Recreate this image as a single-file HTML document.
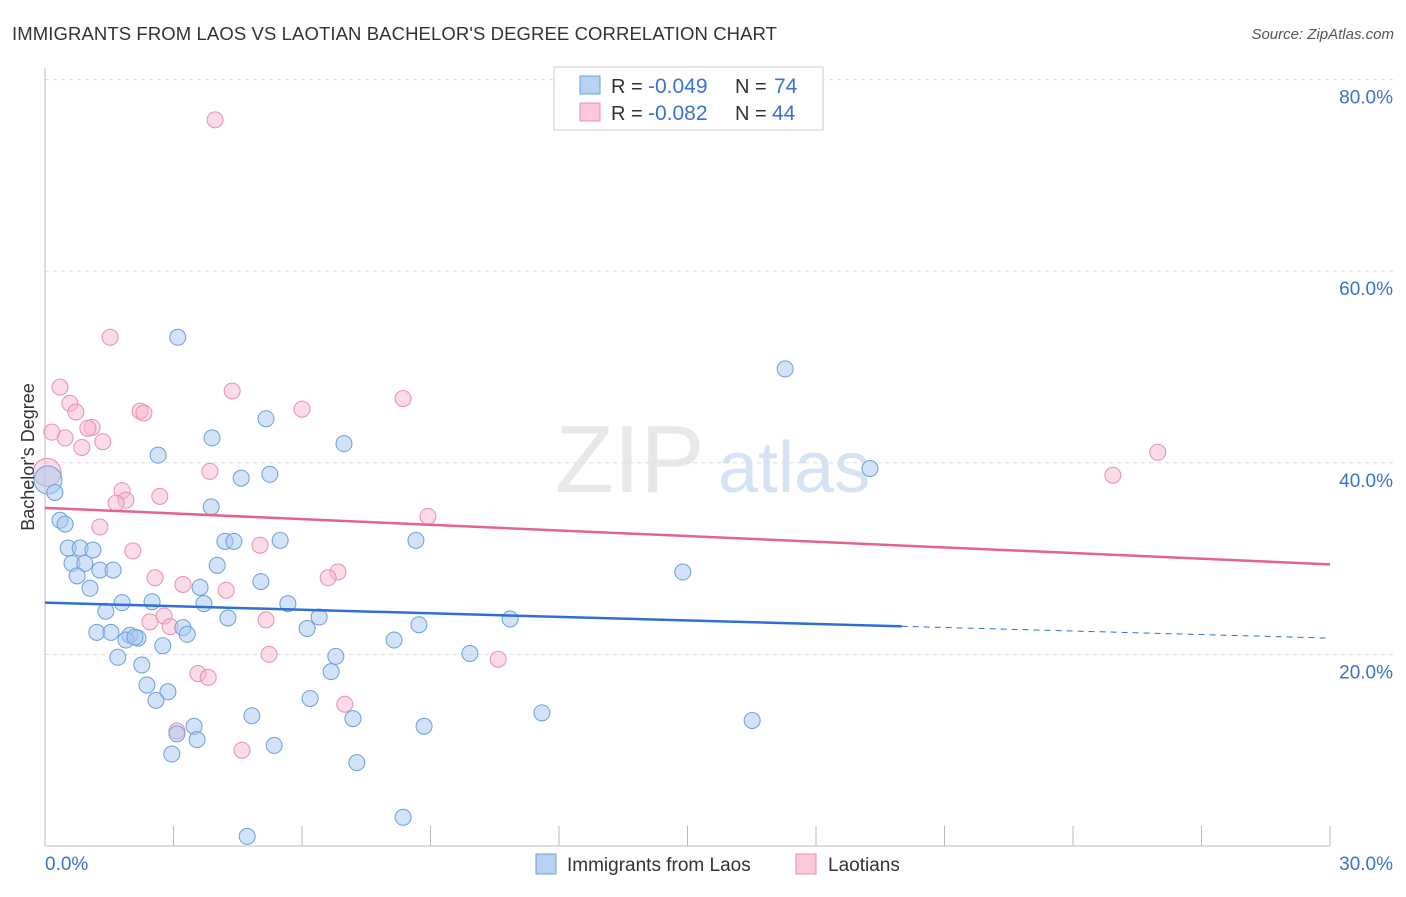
<!DOCTYPE html>
<html><head><meta charset="utf-8"><style>
body{margin:0;background:#fff;font-family:"Liberation Sans",sans-serif;}
svg text{font-family:"Liberation Sans",sans-serif;}
</style></head><body>
<svg id="c" width="1406" height="892">
<text x="12" y="40" font-size="18.5" letter-spacing="0.1" fill="#333">IMMIGRANTS FROM LAOS VS LAOTIAN BACHELOR'S DEGREE CORRELATION CHART</text>
<text x="1394" y="39" font-size="15" fill="#555" font-style="italic" text-anchor="end">Source: ZipAtlas.com</text>
<text x="555" y="492" font-size="96" fill="#e8e8e8" font-family="Liberation Serif">ZIP</text>
<text x="718" y="492" font-size="72" fill="#d5e3f5">atlas</text>
<g id="grid"></g><g id="axes"></g><g id="pts"></g><g id="trend"></g>
<text x="34" y="457" font-size="18" fill="#333" text-anchor="middle" transform="rotate(-90 34 457)">Bachelor's Degree</text>
<g>
<rect x="554" y="67" width="269" height="63" fill="#fff" stroke="#ccc"/>
<rect x="580" y="76" width="20" height="18" fill="#b8d2f4" stroke="#6a9fe0"/>
<rect x="580" y="103" width="20" height="18" fill="#fac8d8" stroke="#e890ac"/>
<text x="611" y="93" font-size="20" fill="#333">R =</text>
<text x="648" y="93" font-size="21" fill="#3a72d0">-0.049</text>
<text x="735" y="93" font-size="20" fill="#333">N =</text>
<text x="774" y="93" font-size="21" fill="#3a72d0">74</text>
<text x="611" y="120" font-size="20" fill="#333">R =</text>
<text x="648" y="120" font-size="21" fill="#3a72d0">-0.082</text>
<text x="735" y="120" font-size="20" fill="#333">N =</text>
<text x="772" y="120" font-size="21" fill="#3a72d0">44</text>
</g>
<g>
<rect x="536" y="854" width="20" height="20" fill="#b8d2f4" stroke="#6a9fe0"/>
<text x="567" y="871" font-size="19" fill="#333">Immigrants from Laos</text>
<rect x="796" y="854" width="20" height="20" fill="#fac8d8" stroke="#e890ac"/>
<text x="828" y="871" font-size="19" fill="#333">Laotians</text>
</g>
</svg>
<script>
const yTicks=[20,40,60,80];
const yTickLabels=["20.0%","40.0%","60.0%","80.0%"];
const xTickLabels=["0.0%","30.0%"];
const blueX=[3.10,17.28,5.16,3.90,6.98,2.64,4.58,5.25,19.26,0.07,0.23,3.88,0.35,0.47,0.54,0.82,1.12,4.20,4.41,5.49,8.66,0.63,0.93,1.28,1.59,0.75,1.05,4.02,3.62,5.04,14.89,1.80,2.50,3.71,5.67,1.42,4.27,6.40,10.86,1.21,1.54,3.22,6.12,8.73,1.98,2.17,1.89,2.75,8.15,3.32,1.70,6.79,9.92,2.26,6.68,2.38,2.87,2.59,6.19,4.83,11.60,7.19,16.51,3.48,8.85,3.08,3.55,5.35,2.96,7.28,8.36,4.72,2.10];
const blueY=[53.1,49.8,44.6,42.6,42.0,40.8,38.4,38.8,39.4,38.2,36.9,35.4,34.0,33.6,31.1,31.1,30.9,31.8,31.8,31.9,31.9,29.5,29.5,28.8,28.8,28.2,26.9,29.3,27.0,27.6,28.6,25.4,25.5,25.3,25.3,24.5,23.8,23.9,23.7,22.3,22.3,22.8,22.7,23.1,22.0,21.7,21.5,20.9,21.5,22.1,19.7,19.8,20.1,18.9,18.2,16.8,16.1,15.2,15.4,13.6,13.9,13.3,13.1,12.5,12.5,11.7,11.1,10.5,9.6,8.7,3.0,1.0,21.8];
const pinkX=[3.97,1.52,0.35,4.37,8.36,0.58,6.00,0.72,2.22,2.31,0.16,0.47,1.10,1.00,1.35,0.86,25.98,0.05,3.85,24.93,1.80,2.68,1.89,1.66,8.94,1.28,5.02,2.05,6.84,2.57,6.61,3.22,4.23,2.78,2.45,5.16,2.92,5.23,3.57,3.81,10.58,7.00,3.08,4.60];
const pinkY=[75.8,53.1,47.9,47.5,46.7,46.2,45.6,45.3,45.4,45.2,43.2,42.6,43.7,43.6,42.2,41.6,41.1,39.0,39.1,38.7,37.1,36.5,36.1,35.8,34.4,33.3,31.4,30.8,28.6,28.0,28.0,27.3,26.7,24.0,23.4,23.6,22.9,20.0,18.0,17.6,19.5,14.8,12.0,10.0];
const blueTrend=[25.4,21.7];
const pinkTrend=[35.3,29.4];
const NS="http://www.w3.org/2000/svg";
const sx=v=>45+v/30*1285, sy=v=>846-v*9.58;
function mk(t,a,p){const e=document.createElementNS(NS,t);for(const k in a)e.setAttribute(k,a[k]);document.getElementById(p).appendChild(e);return e;}
yTicks.forEach((t,i)=>{
 const g=mk('line',{x1:45,x2:1395,y1:sy(t),y2:sy(t),stroke:'#ddd','stroke-dasharray':'4,4'},'grid');
 
 
 const l=mk('text',{x:1393,y:sy(t)+24,'font-size':19,fill:'#3a72d0','text-anchor':'end'},'grid');l.textContent=yTickLabels[i];
 
 
});
const ax=mk('line',{x1:45,x2:45,y1:68,y2:846,stroke:'#bbb'},'axes');


const bx=mk('line',{x1:45,x2:1330,y1:846,y2:846,stroke:'#bbb'},'axes');


for(let i=0;i<=10;i++){const t=mk('line',{x1:sx(i*3),x2:sx(i*3),y1:826,y2:846,stroke:'#bbb'},'axes');
 
 }
[[0,'start',45],[1,'end',1393]].forEach(([i,a,x])=>{const l=mk('text',{x:x,y:870,'font-size':19,fill:'#3a72d0','text-anchor':a},'axes');l.textContent=xTickLabels[i];
 
 });
function dots(X,Y,f,s,name){X.forEach((x,i)=>{const big=x<0.1;const c=mk('circle',{cx:sx(x),cy:sy(Y[i]),r:big?14:8,fill:f,'fill-opacity':0.5,stroke:s,'stroke-width':1},'pts');
 
 });}
dots(pinkX,pinkY,'#f8b8cc','#e890ac','laotians-point');
dots(blueX,blueY,'#a8c8f0','#6a9fe0','laos-immigrants-point');
const bm=blueTrend[0]+(blueTrend[1]-blueTrend[0])*20/30;
const t1=mk('line',{x1:sx(0),y1:sy(blueTrend[0]),x2:sx(20),y2:sy(bm),stroke:'#2e6fd6','stroke-width':2.5},'trend');


const t2=mk('line',{x1:sx(20),y1:sy(bm),x2:sx(30),y2:sy(blueTrend[1]),stroke:'#2e6fd6','stroke-width':1,'stroke-dasharray':'6,5'},'trend');


const t3=mk('line',{x1:sx(0),y1:sy(pinkTrend[0]),x2:sx(30),y2:sy(pinkTrend[1]),stroke:'#e2648e','stroke-width':2.5},'trend');


</script>
</body></html>
